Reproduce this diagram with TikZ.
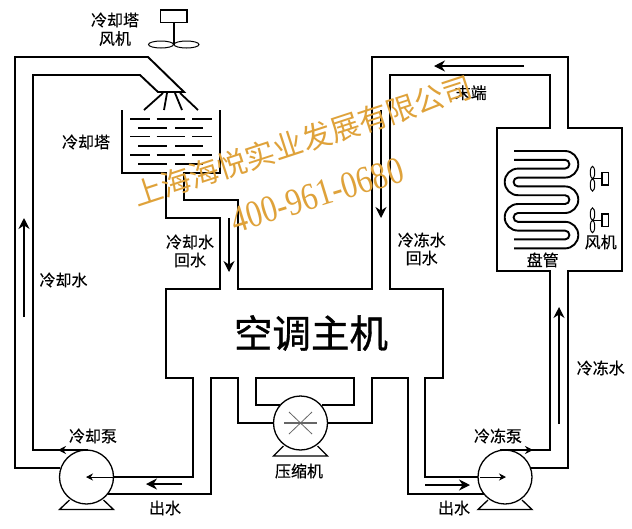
\documentclass[tikz,border=0pt]{standalone}
\usepackage{fontspec}
\setmainfont{Noto Sans CJK SC}
\newfontfamily\labfont[FakeBold=0.35]{Noto Sans CJK SC}
\newfontfamily\titlefont[FakeBold=0.9]{Noto Sans CJK SC}
\newfontfamily\wmfont{Noto Sans CJK SC}
\newfontfamily\numfont{Liberation Serif}
\definecolor{wmcolor}{HTML}{DFA23A}
\tikzset{
  pipe/.style={draw=black,line width=1.9pt,line join=miter},
  thinline/.style={draw=black,line width=1.1pt},
  thickwater/.style={draw=black,line width=1.6pt},
  flow/.style={draw=black,line width=1.3pt,-{Stealth[length=11pt,width=11pt]}},
  thinflow/.style={draw=black,line width=.9pt,-{Stealth[length=7pt,width=7pt]}},
  lab/.style={font=\labfont\fontsize{16}{18}\selectfont,inner sep=0pt,text=black},
  pumpbody/.style={circle,draw=black,line width=1.3pt,minimum size=54pt,inner sep=0pt,fill=white},
}
\usetikzlibrary{arrows.meta}
\begin{document}
\begin{tikzpicture}[x=1pt,y=1pt,yscale=-1]
\useasboundingbox (0,0) rectangle (632,528);
\fill[white] (0,0) rectangle (632,528);
% cooling loop + tower
\draw[pipe] (60,468) -- (15,468) -- (15,57) -- (148,57) -- (184,92) -- (158,92) -- (140,75) -- (33,75) -- (33,450) -- (88,450);
\draw[line width=1.8pt] (163,93) -- (144,110) (167,93) -- (164,110) (175,93) -- (182,110) (180,93) -- (198,110);
\draw[pipe] (122,110) -- (122,173) -- (166,173) -- (166,218) -- (220,218) -- (220,289) -- (166,289) -- (166,378) -- (193,378) -- (193,477) -- (113,477);
\draw[pipe] (220,110) -- (220,173) -- (184,173) -- (184,200) -- (238,200) -- (238,289) -- (372,289) -- (372,57) -- (568,57) -- (568,128) -- (622,128) -- (622,271) -- (568,271) -- (568,468) -- (531,468);
\draw[pipe] (500,450) -- (550,450) -- (550,271) -- (497,271) -- (497,128) -- (550,128) -- (550,75) -- (390,75) -- (390,289) -- (443,289) -- (443,378) -- (425,378) -- (425,477) -- (480,477);
\draw[pipe] (108,494) -- (211,494) -- (211,378) -- (238,378) -- (238,423) -- (274,423);
\draw[pipe] (280,405) -- (256,405) -- (256,378) -- (354,378) -- (354,405) -- (322,405);
\draw[pipe] (327,423) -- (372,423) -- (372,378) -- (408,378) -- (408,494) -- (486,494);
% tower water
\foreach \y/\w in {119/thinline,136.7/thinline,154.7/thickwater}{
  \draw[\w] (130,\y) -- (150,\y) (156.7,\y) -- (185,\y) (192.3,\y) -- (211.7,\y);}
\foreach \y/\w in {128/thinline,146/thickwater,163.7/thickwater}{
  \draw[\w] (138.3,\y) -- (166.7,\y) (175,\y) -- (202.7,\y);}
% tower fan
\draw[line width=1.4pt] (160.7,10) rectangle (187,22.7);
\draw[line width=1.4pt] (174,22.7) -- (174,44.5);
\draw[line width=1pt] (161,44.5) ellipse [x radius=12.5,y radius=3.5] (186.5,44.5) ellipse [x radius=12.5,y radius=3.5];
% coil
\def\ro{13.3}\def\ri{4.42}
\draw[line width=1.9pt] (514,151) -- (565,151) arc[start angle=-90,end angle=90,radius=\ro]
  -- (518,177.6) arc[start angle=-90,end angle=-270,radius=\ri]
  -- (565,186.4) arc[start angle=-90,end angle=90,radius=\ro]
  -- (518,213) arc[start angle=-90,end angle=-270,radius=\ri]
  -- (565,221.8) arc[start angle=-90,end angle=90,radius=\ro] -- (514,248.4);
\draw[line width=1.9pt] (514,159.8) -- (565,159.8) arc[start angle=-90,end angle=90,radius=\ri]
  -- (518,168.6) arc[start angle=-90,end angle=-270,radius=\ro]
  -- (565,195.2) arc[start angle=-90,end angle=90,radius=\ri]
  -- (518,204) arc[start angle=-90,end angle=-270,radius=\ro]
  -- (565,230.6) arc[start angle=-90,end angle=90,radius=\ri] -- (514,239.4);
% coil fans
\foreach \h in {178.7,220.3}{
  \draw[line width=1pt] (592.5,\h-6.2) ellipse [x radius=2.2,y radius=6.2] (592.5,\h+6.2) ellipse [x radius=2.2,y radius=6.2];
  \draw[line width=1.1pt] (592.5,\h) -- (602,\h);
  \draw[line width=1.1pt] (602,\h-6.3) rectangle (608.5,\h+6.3);
}
% pumps
\node[pumpbody] (coolpump) at (86.5,477) {};
\node[pumpbody] (comp) at (300.5,423) {};
\node[pumpbody] (chillpump) at (505,477) {};
\foreach \c in {86.5,505}{
  \draw[line width=1.3pt] (\c-17,500) -- (\c-27,509.5) -- (\c+27,509.5) -- (\c+17,500);
}
\draw[line width=1.3pt] (283.5,446) -- (273.5,456) -- (327.5,456) -- (317.5,446);
\draw[black!60,line width=1.2pt] (284,423) -- (317,423);
\draw[black!60,line width=.8pt] (289,412) -- (312,434) (289,434) -- (312,412);
% arrows
\draw[thinflow] (113,477) -- (86,477);
\draw[thinflow] (480,477) -- (506,477);
\draw[flow,-{Stealth[length=8pt,width=8pt]}] (88,450) -- (58,450);
\draw[flow,-{Stealth[length=8pt,width=8pt]}] (500,450) -- (533,450);
\draw[flow] (182,484) -- (146,484);
\draw[flow] (425,485) -- (470,485);
\draw[flow] (559,424) -- (559,307);
\draw[flow] (24,317) -- (24,218);
\draw[flow] (229,218) -- (229,272);
\draw[flow] (524,66) -- (434,66);
\draw[flow] (381,110) -- (381,218);
% labels
\node[lab] (l1) at (115,20) {冷却塔};
\node[lab] (l2) at (115,38.5) {风机};
\node[lab] (l3) at (86,142) {冷却塔};
\node[lab] (l4) at (190,242) {冷却水};
\node[lab] (l5) at (190,260) {回水};
\node[lab] (l6) at (63.5,280) {冷却水};
\node[lab] (l7) at (421.7,240) {冷冻水};
\node[lab] (l8) at (421.7,258) {回水};
\node[lab] (l9) at (470.7,92.7) {末端};
\node[lab] (l10) at (542.7,260) {盘管};
\node[lab] (l11) at (600.7,242) {风机};
\node[lab] (l12) at (600.7,368) {冷冻水};
\node[lab] (l13) at (93,436) {冷却泵};
\node[lab] (l14) at (498,436) {冷冻泵};
\node[lab] (l15) at (299,471) {压缩机};
\node[lab] (l16) at (165,508) {出水};
\node[lab] (l17) at (454,508) {出水};
\node[inner sep=0pt,font=\titlefont\fontsize{38.5}{40}\selectfont] (main) at (311,333) {空调主机};
% watermark
\node[inner sep=0pt,text=wmcolor,rotate=18.1,font=\wmfont\fontsize{29.6}{31}\selectfont] (wm1) at (302.5,141) {上海海悦实业发展有限公司};
\node[inner sep=0pt,text=wmcolor,rotate=17,xscale=.83,font=\numfont\fontsize{38}{40}\selectfont] (wm2) at (317,195) {400-961-0680};
\end{tikzpicture}
\end{document}
